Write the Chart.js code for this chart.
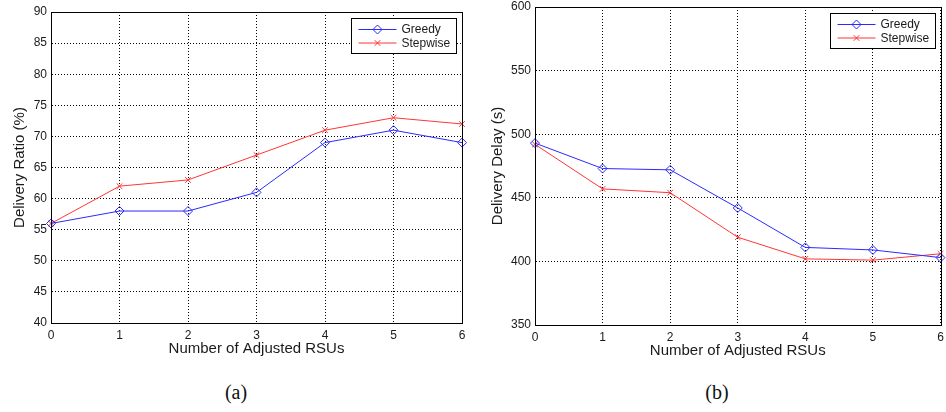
<!DOCTYPE html>
<html>
<head>
<meta charset="utf-8">
<script src="https://cdn.jsdelivr.net/npm/chart.js@4"></script>
<style>
  body { margin: 0; background: #fff; width: 946px; height: 412px; overflow: hidden; position: relative; }
  canvas { position: absolute; top: 0; }
  .cap { position: absolute; top: 381px; font: 20px "Liberation Serif", "Times New Roman", serif; color: #111; transform: translateX(-50%); }
</style>
</head>
<body>
<canvas id="ratioChart" width="473" height="365" style="left:0"></canvas>
<canvas id="delayChart" width="473" height="365" style="left:473px"></canvas>
<div class="cap" style="left:236px">(a)</div>
<div class="cap" style="left:717px">(b)</div>
<script>
var RSUS = ['0', '1', '2', '3', '4', '5', '6'];
var RATIO_GREEDY = [56, 58, 58, 61, 69, 71, 69];
var RATIO_STEPWISE = [56, 62, 63, 67, 71, 73, 72];
var DELAY_GREEDY = [493, 473, 472, 442, 411, 409, 403];
var DELAY_STEPWISE = [492, 457, 454, 419, 402, 401, 406];

var BLUE = '#2a2aff';
var RED = '#ff3535';
var TEXT = '#1a1a1a';
var FONT = '"Liberation Sans", Arial, sans-serif';

// frame round the plot area plus the boxed legend in the top right corner
var framePlugin = {
    id: 'frame',
    afterDraw: function(chart) {
        var ctx = chart.ctx, a = chart.chartArea;
        ctx.save();
        ctx.strokeStyle = '#000';
        ctx.lineWidth = 1;
        ctx.strokeRect(Math.round(a.left) + 0.5, Math.round(a.top) + 0.5,
            Math.round(a.right - a.left), Math.round(a.bottom - a.top));

        var w = 105, h = 35;
        var x = Math.round(a.right - 6 - w) + 0.5, y = Math.round(a.top + 6) + 0.5;
        ctx.fillStyle = '#fff';
        ctx.fillRect(x, y, w, h);
        ctx.strokeRect(x, y, w, h);
        ctx.font = '12px ' + FONT;
        ctx.textBaseline = 'middle';
        chart.data.datasets.forEach(function(ds, i) {
            var ry = y + 11 + i * 13.5;
            ctx.strokeStyle = ds.borderColor;
            ctx.beginPath();
            ctx.moveTo(x + 7, ry);
            ctx.lineTo(x + 45, ry);
            ctx.stroke();
            ctx.fillStyle = 'transparent';
            Chart.helpers.drawPoint(ctx, { pointStyle: ds.pointStyle, radius: ds.pointRadius, borderWidth: 1 }, x + 26, ry);
            ctx.fillStyle = TEXT;
            ctx.fillText(ds.label, x + 50, ry + 0.5);
        });
        ctx.restore();
    }
};

function series(label, data, color, style, radius) {
    return {
        label: label, data: data,
        borderColor: color, backgroundColor: 'transparent',
        borderWidth: 1, tension: 0,
        pointStyle: style, pointRadius: radius,
        pointBorderColor: color, pointBackgroundColor: 'transparent', pointBorderWidth: 1
    };
}

function makeChart(id, greedy, stepwise, yTitle, yMin, yMax, yStep, opts) {
    new Chart(document.getElementById(id), {
        type: 'line',
        data: {
            labels: RSUS,
            datasets: [
                series('Greedy', greedy, BLUE, 'rectRot', 4.5),
                series('Stepwise', stepwise, RED, 'crossRot', 4)
            ]
        },
        plugins: [framePlugin],
        options: {
            responsive: false,
            animation: false,
            devicePixelRatio: 1,
            layout: { padding: { top: opts.top, right: opts.right, left: 0, bottom: 0 } },
            plugins: { legend: { display: false }, tooltip: { enabled: false } },
            scales: {
                x: {
                    offset: false,
                    grid: { color: '#000', lineWidth: 1, drawTicks: false, offset: false },
                    border: { display: true, color: '#000', dash: [1, 2] },
                    ticks: { color: TEXT, font: { family: FONT, size: 12 }, padding: 5, maxRotation: 0, autoSkip: false },
                    title: { display: true, text: 'Number of Adjusted RSUs', color: TEXT, font: { family: FONT, size: 15 }, padding: { top: 0, bottom: opts.xTitlePad } },
                    afterFit: function(s) { s.height = opts.xHeight; s.paddingLeft = 0; s.paddingRight = 0; }
                },
                y: {
                    min: yMin, max: yMax,
                    grid: { color: '#000', lineWidth: 1, drawTicks: false },
                    border: { display: true, color: '#000', dash: [1, 2] },
                    ticks: { stepSize: yStep, color: TEXT, font: { family: FONT, size: 12 }, padding: 4 },
                    title: { display: true, text: yTitle, color: TEXT, font: { family: FONT, size: 15 }, padding: { top: opts.yTitlePad, bottom: 0 } },
                    afterFit: function(s) { s.width = opts.yWidth; s.paddingTop = 0; s.paddingBottom = 0; }
                }
            }
        }
    });
}

makeChart('ratioChart', RATIO_GREEDY, RATIO_STEPWISE, 'Delivery Ratio (%)', 40, 90, 5,
    { top: 12, right: 11, yWidth: 51, xHeight: 42, xTitlePad: 7, yTitlePad: 11 });
makeChart('delayChart', DELAY_GREEDY, DELAY_STEPWISE, 'Delivery Delay (s)', 350, 600, 50,
    { top: 7, right: 2, yWidth: 62, xHeight: 40, xTitlePad: 5, yTitlePad: 16 });
</script>
</body>
</html>
